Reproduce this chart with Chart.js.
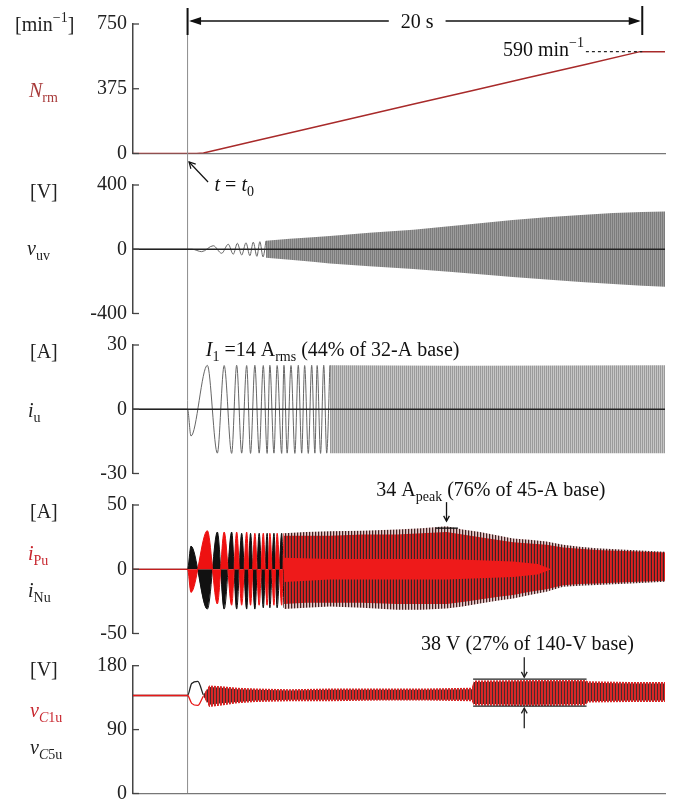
<!DOCTYPE html>
<html>
<head>
<meta charset="utf-8">
<script src="https://cdn.jsdelivr.net/npm/chart.js@4.4.1/dist/chart.umd.min.js"></script>
<style>
  html, body { margin: 0; padding: 0; background: #fff; overflow: hidden; }
  #wrap { position: relative; width: 676px; height: 803px; overflow: hidden; }
  canvas { position: absolute; left: 0; top: 0; }
</style>
</head>
<body>
<div id="wrap">
  <canvas id="c1" width="676" height="840"></canvas>
  <canvas id="c2" width="676" height="840"></canvas>
  <canvas id="c3" width="676" height="840"></canvas>
  <canvas id="c4" width="676" height="840"></canvas>
  <canvas id="c5" width="676" height="840"></canvas>
</div>
<script>
const SERIF = '"Liberation Serif", "Times New Roman", serif';
const CANVAS_H = 840;
const T_MIN = -2.4, T_MAX = 21;

// --- panel 1: rotor speed [min^-1]
const nrmTime  = [-2.4, 0.4, 0.7, 1.5, 3.0, 5.0, 7.5, 10.0, 12.5, 15.0, 17.5, 19.9, 21.0];
const nrmValue = [0, 0, 3, 28, 74, 135, 211, 288, 364, 440, 516, 590, 590];
const nrmTicks = [0, 375, 750];

// --- panel 2: line voltage v_uv [V]
const vuvTime  = [-2.4, 0.2, 0.62, 1.13, 1.50, 1.79, 2.01, 2.19, 2.38, 2.57, 2.74, 2.89, 3.05, 3.18, 3.32, 3.45];
const vuvValue = [0, 0, -15, 22, -25, 31, -31, 37, -36, 40, -40, 44, -44, 47, -48, 52];
const vuvBandTime = [3.45, 4.5, 5.5, 6.26, 8.0, 9.93, 11.5, 12.86, 14.3, 15.79, 17.3, 18.72, 20.0, 21.0];
const vuvBandHi   = [53, 65, 74, 83, 103, 121, 143, 162, 182, 200, 214, 225, 232, 235];
const vuvBandLo   = [-53, -66, -78, -88, -106, -123, -140, -156, -172, -188, -204, -217, -227, -233];
const vuvTicks = [-400, 0, 400];

// --- panel 3: output current i_u [A]
const iuTime  = [-2.4, 0.0, 0.15, 0.87, 1.31, 1.61, 1.94, 2.16, 2.38, 2.60, 2.77, 2.96, 3.15, 3.33, 3.50,
                 3.62, 3.80, 3.94, 4.14, 4.24, 4.38, 4.55, 4.72, 4.87, 5.02, 5.15, 5.31, 5.46, 5.60, 5.70,
                 5.85, 5.99, 6.12, 6.26];
const iuValue = [0, 0, -12.5, 20.5, -20.5, 20.4, -20.6, 20.5, -20.5, 20.4, -20.6, 20.5, -20.5, 20.4, -20.6,
                 20.5, -20.5, 20.4, -20.6, 20.5, -20.5, 20.4, -20.6, 20.5, -20.5, 20.4, -20.6, 20.5, -20.5, 20.4,
                 -20.6, 20.5, -20.5, 20.5];
const iuBandTime = [6.26, 12.0, 21.0];
const iuBandHi   = [20.5, 20.3, 20.6];
const iuBandLo   = [-20.5, -20.6, -20.5];
const iuTicks = [-30, 0, 30];

// --- panel 4: arm currents i_Pu (red), i_Nu (black) [A]
const armTime = [-2.4, 0.0, 0.15, 0.87, 1.31, 1.61, 1.94, 2.16, 2.38, 2.60, 2.77, 2.96, 3.15, 3.33, 3.50,
                 3.62, 3.80, 3.94, 4.14, 4.24];
const ipuValue = [0, 0, -18, 30, -27, 29, -28, 29, -28, 29, -28, 28, -28, 28, -28, 28, -28, 28, -28, 28];
const inuValue = [0, 0, 18, -31, 29, -31, 29, -31, 28, -31, 28, -31, 28, -30, 28, -30, 28, -30, 28, -30];
const armBandTime = [4.24, 5.2, 6.26, 7.7, 9.2, 10.3, 11.39, 12.1, 12.86, 13.6, 14.32, 15.05, 15.79, 16.52, 17.25, 17.99, 19.5, 21.0];
const inuBandHi = [28, 29, 29.5, 30, 31, 32, 33.5, 31, 29, 26.5, 24, 23, 21.5, 19, 17.5, 16.4, 15, 13.7];
const inuBandLo = [-31, -30, -29, -30, -31.5, -31.5, -30.5, -29, -26.6, -24.5, -22.7, -20, -17.5, -13.6, -12.8, -12.3, -11, -9.7];
const ipuBandHi = [26, 26, 26, 27, 27, 28, 29, 27, 25, 23, 21, 20, 19, 17, 16, 15, 14, 13];
const ipuBandLo = [-27, -26, -26, -26, -27, -27, -27, -25.5, -23.5, -21.5, -20, -17.5, -15.5, -12.5, -11.5, -11, -10, -9];
const ipuCoreTime = [4.24, 6.26, 9.2, 11.39, 12.86, 14.32, 15.4, 16.0];
const ipuCoreHi   = [9, 8, 8, 8, 7, 6, 4, 0];
const ipuCoreLo   = [-10, -8, -8, -8, -7, -6, -4, 0];
const armTicks = [-50, 0, 50];

// --- panel 5: capacitor voltages v_C1u (red), v_C5u (black) [V]
const capTime  = [-2.4, 0.0, 0.18, 0.45, 0.69];
const vc1Value = [138, 138, 127, 124, 137];
const vc5Value = [138, 138, 155, 158, 139];
const capBandTime = [0.69, 0.95, 1.5, 2.2, 3.0, 4.5, 6.26, 8.5, 10.5, 12.5, 12.6, 15.0, 17.5, 17.6, 19.5, 21.0];
const vc1BandHi = [139, 152, 151, 149, 148, 147, 148, 148, 148, 149, 159, 160, 160, 158, 157, 157];
const vc1BandLo = [137, 122, 124, 127, 129, 130, 130, 131, 131, 130, 124, 123, 124, 128, 129, 129];
const vc5BandHi = [139, 150, 149, 147, 146, 145, 146, 146, 146, 147, 157, 158, 158, 156, 155, 155];
const vc5BandLo = [137, 125, 127, 129, 131, 132, 132, 132, 132, 132, 126, 125, 126, 130, 131, 131];
const capTicks = [0, 90, 180];

const pts = (ts, vs) => ts.map((t, i) => ({ x: t, y: vs[i] }));

// vertical hatch: colours[i] fills pixel column i of the repeating tile
function hatch(colours) {
  const c = document.createElement("canvas");
  c.width = colours.length; c.height = 8;
  const g = c.getContext("2d");
  colours.forEach((col, i) => {
    if (!col) return;
    g.fillStyle = col;
    g.fillRect(i, 0, 1, 8);
  });
  return g.createPattern(c, "repeat");
}

function trace(data, color, width, order, extra) {
  return Object.assign({ data, borderColor: color, borderWidth: width, pointRadius: 0, fill: false, tension: 0, order }, extra);
}

function wave(data, color, width, order, extra) {
  return trace(data, color, width, order, Object.assign({ cubicInterpolationMode: "monotone" }, extra));
}

function band(ts, hi, lo, fillStyle, order) {
  return [
    { data: pts(ts, lo), borderColor: "rgba(0,0,0,0)", borderWidth: 0, pointRadius: 0, fill: false, order },
    { data: pts(ts, hi), borderColor: "rgba(0,0,0,0)", borderWidth: 0, pointRadius: 0, fill: "-1", backgroundColor: fillStyle, order },
  ];
}

const FONT = { n: "20px ", i: "italic 20px ", s: "14px ", si: "italic 14px ", p: "14px " };
const RISE = { n: 0, i: 0, s: 5, si: 5, p: -9 };
function rich(ctx, parts, x, y, color, align) {
  let w = 0;
  for (const [t, k] of parts) { ctx.font = FONT[k] + SERIF; w += ctx.measureText(t).width; }
  let cx = align === "center" ? x - w / 2 : x;
  ctx.fillStyle = color; ctx.textAlign = "left"; ctx.textBaseline = "alphabetic";
  for (const [t, k] of parts) {
    ctx.font = FONT[k] + SERIF;
    ctx.fillText(t, cx, y + RISE[k]);
    cx += ctx.measureText(t).width;
  }
  return w;
}

function seg(ctx, x1, y1, x2, y2) {
  ctx.beginPath(); ctx.moveTo(x1, y1); ctx.lineTo(x2, y2); ctx.stroke();
}

function arrow(ctx, x1, y1, x2, y2, size) {
  seg(ctx, x1, y1, x2, y2);
  const a = Math.atan2(y2 - y1, x2 - x1);
  ctx.beginPath();
  ctx.moveTo(x2 - size * Math.cos(a - 0.5), y2 - size * Math.sin(a - 0.5));
  ctx.lineTo(x2, y2);
  ctx.lineTo(x2 - size * Math.cos(a + 0.5), y2 - size * Math.sin(a + 0.5));
  ctx.stroke();
}

function solidHead(ctx, x, y, dir) {
  ctx.beginPath();
  ctx.moveTo(x, y);
  ctx.lineTo(x - dir * 12, y - 4);
  ctx.lineTo(x - dir * 12, y + 4);
  ctx.closePath(); ctx.fill();
}

function inwardTicks(chart) {
  const y = chart.scales.y, ctx = chart.ctx, left = chart.chartArea.left;
  ctx.save();
  ctx.strokeStyle = "#444"; ctx.lineWidth = 1.3;
  y.ticks.forEach(t => seg(ctx, left, y.getPixelForValue(t.value), left + 6, y.getPixelForValue(t.value)));
  ctx.restore();
}

function panel(id, top, bottom, ticks, datasets, xAxis, deco) {
  return new Chart(document.getElementById(id), {
    type: "line",
    data: { datasets },
    options: {
      responsive: false,
      animation: false,
      events: [],
      layout: { padding: { top, bottom: CANVAS_H - bottom, left: 0, right: 11 } },
      plugins: { legend: { display: false }, tooltip: { enabled: false } },
      scales: {
        x: {
          type: "linear", min: T_MIN, max: T_MAX, display: xAxis,
          grid: { display: false, drawTicks: false },
          ticks: { display: false },
          border: { display: true, color: "#777", width: 1.3 },
        },
        y: {
          type: "linear", min: ticks[0], max: ticks[ticks.length - 1],
          grid: { display: false, drawTicks: false },
          border: { display: true, color: "#444", width: 1.5 },
          ticks: { padding: 6, color: "#222", font: { family: SERIF, size: 20, lineHeight: 1 }, callback: v => String(v) },
          afterBuildTicks: s => { s.ticks = ticks.map(v => ({ value: v })); },
          afterFit: s => { s.width = 133; },
        },
      },
    },
    plugins: [{
      id: "deco",
      afterDraw: chart => {
        inwardTicks(chart);
        const ctx = chart.ctx;
        ctx.save();
        deco(chart, ctx, chart.scales.x, chart.scales.y, chart.chartArea);
        ctx.restore();
      },
    }],
  });
}

// panel 1
panel("c1", 24, 153.5, nrmTicks, [
  trace(pts(nrmTime, nrmValue), "#a82a2a", 1.5, 1),
], true, (chart, ctx, x, y, a) => {
  const x0 = x.getPixelForValue(0), x20 = x.getPixelForValue(20);
  ctx.strokeStyle = "#8c8c8c"; ctx.lineWidth = 1;
  seg(ctx, x0, 8, x0, 793.5);
  ctx.strokeStyle = "#111"; ctx.fillStyle = "#111"; ctx.lineWidth = 2;
  seg(ctx, x0, 8, x0, 35);
  seg(ctx, x20, 6, x20, 35);
  ctx.font = "20px " + SERIF;
  const mid = x.getPixelForValue(10.1), w = ctx.measureText("20 s").width;
  ctx.lineWidth = 1.3;
  seg(ctx, x0 + 4, 21, mid - w / 2 - 12, 21);
  seg(ctx, mid + w / 2 + 12, 21, x20 - 4, 21);
  solidHead(ctx, x0 + 1.5, 21, -1);
  solidHead(ctx, x20 - 1.5, 21, 1);
  rich(ctx, [["20 s", "n"]], mid, 28, "#111", "center");
  // 590 min^-1 marker
  const w590 = rich(ctx, [["590 min", "n"], ["\u22121", "p"]], x.getPixelForValue(13.87), 56, "#111");
  ctx.setLineDash([3, 3]); ctx.lineWidth = 1.2; ctx.strokeStyle = "#222";
  seg(ctx, x.getPixelForValue(13.87) + w590 + 2, y.getPixelForValue(590), x20, y.getPixelForValue(590));
  ctx.setLineDash([]);
  // t = t0
  ctx.lineWidth = 1.2; ctx.strokeStyle = "#111";
  arrow(ctx, x0 + 20.5, a.bottom + 28.5, x0 + 1.5, a.bottom + 8.5, 7);
  rich(ctx, [["t", "i"], [" = ", "n"], ["t", "i"], ["0", "s"]], x0 + 27, 191, "#111");
  // axis labels
  rich(ctx, [["[min", "n"], ["\u22121", "p"], ["]", "n"]], 15, a.top + 7, "#222");
  rich(ctx, [["N", "i"], ["rm", "s"]], 29, a.top + 73, "#a83a3a");
});

// panel 2
panel("c2", 185, 313.5, vuvTicks, [
  trace(pts([T_MIN, T_MAX], [0, 0]), "#222", 1.3, 0),
  wave(pts(vuvTime, vuvValue), "#666", 1, 1),
  ...band(vuvBandTime, vuvBandHi, vuvBandLo, hatch(["#7c7c7c", "#9c9c9c"]), 2),
], false, (chart, ctx, x, y, a) => {
  rich(ctx, [["[V]", "n"]], 30, a.top + 13, "#222");
  rich(ctx, [["v", "i"], ["uv", "s"]], 27, a.top + 70, "#222");
});

// panel 3
panel("c3", 345, 473.5, iuTicks, [
  trace(pts([T_MIN, T_MAX], [0, 0]), "#222", 1.3, 0),
  wave(pts(iuTime, iuValue), "#666", 1, 1),
  ...band(iuBandTime, iuBandHi, iuBandLo, hatch(["#9a9a9a", "#c6c6c6"]), 2),
], false, (chart, ctx, x, y, a) => {
  rich(ctx, [["I", "i"], ["1", "s"], [" =14 A", "n"], ["rms", "s"], [" (44% of 32-A base)", "n"]], x.getPixelForValue(0.8), 356, "#111");
  rich(ctx, [["[A]", "n"]], 30, a.top + 13, "#222");
  rich(ctx, [["i", "i"], ["u", "s"]], 28, a.top + 72, "#222");
});

// panel 4
panel("c4", 505, 633.5, armTicks, [
  ...band(ipuCoreTime, ipuCoreHi, ipuCoreLo, "#ee1a1a", 1),
  ...band(armBandTime, ipuBandHi, ipuBandLo, hatch([null, "#e41c1c", "#b82828"]), 2),
  ...band(armBandTime, inuBandHi, inuBandLo, hatch(["#3a2222", "#c9a0a0", "#e6cccc"]), 3),
  wave(pts(armTime, ipuValue), "#ee1111", 1, 4, { fill: "origin", backgroundColor: "#ee1111" }),
  wave(pts(armTime, inuValue), "#111", 1, 5, { fill: "origin", backgroundColor: "#111" }),
], false, (chart, ctx, x, y, a) => {
  rich(ctx, [["34 A", "n"], ["peak", "s"], [" (76% of 45-A base)", "n"]], x.getPixelForValue(8.3), a.top - 9, "#111");
  const xb = x.getPixelForValue(11.39), yb = y.getPixelForValue(32);
  ctx.strokeStyle = "#111"; ctx.lineWidth = 1.3;
  arrow(ctx, xb, yb - 26, xb, yb - 7, 6);
  seg(ctx, x.getPixelForValue(10.92), yb, x.getPixelForValue(11.89), yb);
  rich(ctx, [["[A]", "n"]], 30, a.top + 13, "#222");
  rich(ctx, [["i", "i"], ["Pu", "s"]], 28, a.top + 55, "#c8262e");
  rich(ctx, [["i", "i"], ["Nu", "s"]], 28, a.top + 92, "#222");
});

// panel 5
panel("c5", 665.7, 793.5, capTicks, [
  wave(pts(capTime, vc1Value), "#e81818", 1.3, 1),
  wave(pts(capTime, vc5Value), "#222", 1.3, 2),
  ...band(capBandTime, vc1BandHi, vc1BandLo, hatch([null, "#e42020", "#c83030"]), 3),
  ...band(capBandTime, vc5BandHi, vc5BandLo, hatch(["#4a2a2a", "#d8a8a8", "#ecc8c8"]), 4),
], true, (chart, ctx, x, y, a) => {
  const xl = x.getPixelForValue(12.56), xr = x.getPixelForValue(17.55), xm = x.getPixelForValue(14.81);
  const yh = y.getPixelForValue(161), yl = y.getPixelForValue(123);
  ctx.strokeStyle = "#222"; ctx.lineWidth = 1.3;
  seg(ctx, xl, yh, xr, yh);
  seg(ctx, xl, yl, xr, yl);
  arrow(ctx, xm, yh - 22, xm, yh - 2, 6);
  arrow(ctx, xm, yl + 22, xm, yl + 2, 6);
  rich(ctx, [["38 V (27% of 140-V base)", "n"]], x.getPixelForValue(14.95), 650, "#111", "center");
  rich(ctx, [["[V]", "n"]], 30, a.top + 10, "#222");
  rich(ctx, [["v", "i"], ["C", "si"], ["1u", "s"]], 30, a.top + 51, "#c8262e");
  rich(ctx, [["v", "i"], ["C", "si"], ["5u", "s"]], 30, a.top + 88, "#222");
});
</script>
</body>
</html>
